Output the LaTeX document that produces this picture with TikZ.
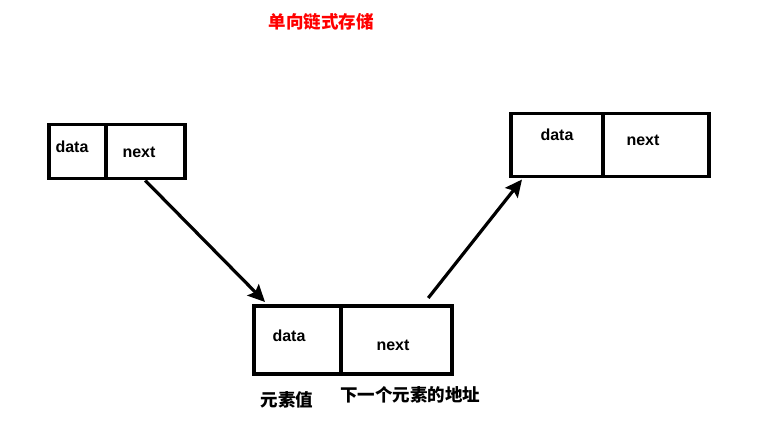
\documentclass[tikz,border=0pt]{standalone}
\usepackage{fontspec}
\setmainfont{Liberation Sans}
\newfontfamily\cjkfont{Noto Sans CJK SC}
\usetikzlibrary{arrows.meta}
\tikzset{
  cell/.style={draw=black, line width=3.5pt, rectangle, inner sep=0pt, anchor=north west},
  celltext/.style={font=\bfseries\fontsize{16}{18}\selectfont, anchor=base, inner sep=0pt},
  cjklabel/.style={font=\cjkfont\bfseries\fontsize{17.5}{20}\selectfont, inner sep=0pt},
  link/.style={line width=3.2pt, -{Stealth[length=17pt,width=16pt,inset=3pt]}}
}
\begin{document}
\begin{tikzpicture}[x=1pt,y=-1pt]
\useasboundingbox (0,0) rectangle (760,446);
% title
\node[cjklabel, text=red] (title) at (321,22) {单向链式存储};
% box 1
\node[cell, minimum width=57pt, minimum height=54pt] (d1) at (47,123) {};
\node[cell, minimum width=79pt, minimum height=54pt] (n1) at (104,123) {};
\node[celltext] (td1) at (72,153) {data};
\node[celltext] (tn1) at (139,158) {next};
% box 2
\node[cell, minimum width=87pt, minimum height=68pt] (d2) at (252,304) {};
\node[cell, minimum width=111pt, minimum height=68pt] (n2) at (339,304) {};
\node[celltext] (td2) at (289,341.5) {data};
\node[celltext] (tn2) at (393,350) {next};
\node[cjklabel] (l1) at (287,400) {元素值};
\node[cjklabel] (l2) at (410,395) {下一个元素的地址};
% box 3
\node[cell, minimum width=92pt, minimum height=63pt] (d3) at (509,112) {};
\node[cell, minimum width=106pt, minimum height=63pt] (n3) at (601,112) {};
\node[celltext] (td3) at (557,140.5) {data};
\node[celltext] (tn3) at (643,146) {next};
% links
\coordinate (e1) at ([xshift=13pt,yshift=2pt]d2.north west);
\coordinate (s2) at ([xshift=32pt,yshift=6pt]n2.north);
\coordinate (e2) at ([xshift=13pt,yshift=-1pt]d3.south west);
\draw[link] (n1.south) -- (e1);
\draw[link] (s2) -- (e2);
\end{tikzpicture}
\end{document}
